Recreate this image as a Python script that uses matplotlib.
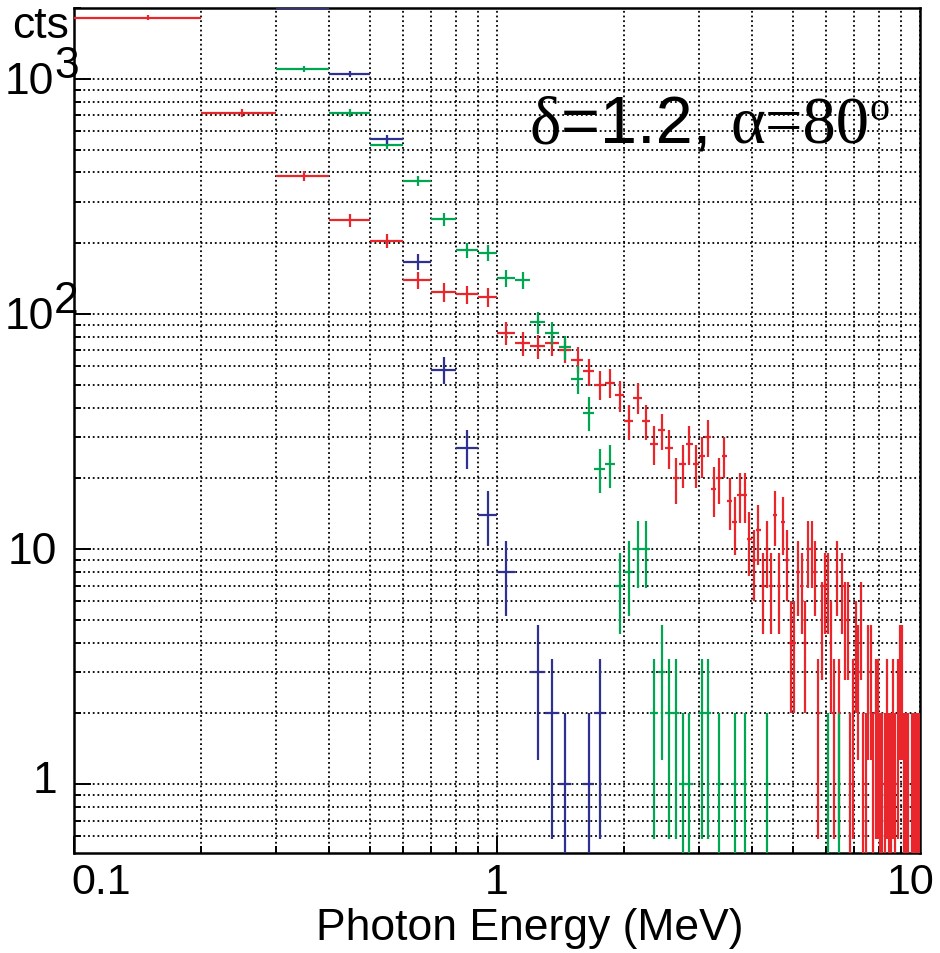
import numpy as np
import matplotlib
matplotlib.use("Agg")
import matplotlib.pyplot as plt
from matplotlib.ticker import LogLocator, NullFormatter
from matplotlib.transforms import offset_copy

plt.rcParams['font.family'] = ['Liberation Sans', 'DejaVu Sans']

# energy bins: 0.1 MeV wide, centres 0.15 ... 9.95 MeV
energy = np.round(np.arange(0.15, 10.0, 0.1), 2)
bin_half = 0.05

# counts per bin, one row per MeV
red_cts = [
    1820, 716, 386, 251, 205, 139, 124, 121, 118,
    83, 75, 73, 75, 70, 64, 57, 50, 51, 45,
    35, 44, 35, 28, 32, 27, 20, 23, 28, 23,
    25, 30, 18, 20, 25, 16, 13, 17, 17, 11,
    9, 12, 7, 10, 7, 14, 7, 13, 9, 4,
    4, 8, 7, 4, 10, 10, 8, 2, 5, 7,
    7, 4, 2, 8, 2, 7, 5, 5, 1, 2,
    4, 3, 5, 1, 1, 3, 3, 1, 2, 2,
    1, 1, 1, 2, 1, 1, 2, 1, 2, 3,
    3, 1, 1, 1, 0, 1, 1, 1, 1, 1,
]
green_cts = [
    0, 0, 1103, 716, 525, 368, 253, 187, 182,
    142, 139, 92, 83, 72, 53, 38, 22, 23, 7,
    8, 10, 10, 2, 3, 2, 2, 1, 1, 0,
    2, 2, 0, 1, 0, 0, 1, 0, 1, 0,
    0, 0, 0, 1, 0, 0, 0, 0, 0, 0,
    0, 0, 0, 0, 0, 0, 0, 0, 0, 0,
    1, 0, 0, 0, 1, 0, 0, 0, 0, 0,
    0, 0, 0, 0, 0, 0, 0, 0, 0, 0,
    0, 0, 0, 0, 0, 0, 0, 0, 0, 0,
    0, 0, 0, 0, 0, 0, 0, 0, 0, 0,
]
blue_cts = [
    0, 0, 2400, 1050, 553, 167, 58, 27, 14,
    8, 0, 3, 2, 1, 0, 1, 2, 0, 0,
] + [0] * 80

y_min, y_max = 0.51, 2000
x_min, x_max = 0.1, 10

W, H = 940, 954
fig = plt.figure(figsize=(W / 100, H / 100), dpi=100)
ax = fig.add_axes([74 / W, 1 - 854 / H, (920 - 74) / W, (854 - 9) / H])
ax.set_xscale('log')
ax.set_yscale('log')
ax.set_xlim(x_min, x_max)
ax.set_ylim(y_min, y_max)


def draw_hist(cts, color):
    cts = np.array(cts, dtype=float)
    m = cts > 0
    n = cts[m]
    y = np.minimum(n, y_max)          # off-scale bins sit on the frame, as in ROOT
    err = np.sqrt(n)
    lo = np.minimum(np.clip(n - err, 1e-3, None), y)
    hi = np.minimum(n + err, y_max)
    ax.errorbar(energy[m], y, xerr=bin_half, yerr=[y - lo, hi - y],
                fmt='none', ecolor=color, elinewidth=1.6, capsize=0, zorder=3)


draw_hist(red_cts, '#e8262b')
draw_hist(green_cts, '#00a651')
draw_hist(blue_cts, '#2e3192')

# dotted grid on every tick
ax.xaxis.set_major_locator(LogLocator(base=10, numticks=10))
ax.xaxis.set_minor_locator(LogLocator(base=10, subs=np.arange(2, 10), numticks=20))
ax.yaxis.set_major_locator(LogLocator(base=10, numticks=10))
ax.yaxis.set_minor_locator(LogLocator(base=10, subs=np.arange(2, 10), numticks=20))
ax.set_axisbelow(True)
ax.grid(True, which='both', color='black', linestyle=(0, (1, 1.6)), linewidth=1.3)

for s in ax.spines.values():
    s.set_linewidth(1.8)
ax.tick_params(which='both', direction='in', top=False, right=False, width=1.4)
ax.tick_params(which='major', length=12)
ax.tick_params(which='minor', length=5)

ax.xaxis.set_major_formatter(NullFormatter())
ax.xaxis.set_minor_formatter(NullFormatter())
ax.yaxis.set_major_formatter(NullFormatter())
ax.yaxis.set_minor_formatter(NullFormatter())

# x tick labels, ROOT keeps the end labels inside the frame
xtrans = ax.get_xaxis_transform()
for val, lab, ha, dx in [(0.1, '0.1', 'left', -3), (1, '1', 'center', 0),
                         (10, '10', 'right', 14)]:
    ax.text(val, 0, lab, fontsize=31, ha=ha, va='baseline',
            transform=offset_copy(xtrans, fig=fig, x=dx, y=-40, units='dots'))

# y tick labels drawn ROOT-style (big exponent right next to the base)
ytrans = ax.get_yaxis_transform()
ylab_size = 32
for val, base, expo, dy in [(1, '1', None, -8), (10, '10', None, -14),
                            (100, '10', '2', -14), (1000, '10', '3', -14)]:
    dx = -20 if expo else -17
    ax.text(0, val, base, fontsize=ylab_size, ha='right', va='baseline',
            transform=offset_copy(ytrans, fig=fig, x=dx, y=dy, units='dots'))
    if expo:
        ax.text(0, val, expo, fontsize=ylab_size, ha='left', va='baseline',
                transform=offset_copy(ytrans, fig=fig, x=-20, y=2, units='dots'))

fig.text(12 / W, 1 - 38 / H, 'cts', fontsize=32, ha='left', va='baseline')
fig.text(530 / W, 1 - 940 / H, 'Photon Energy (MeV)', fontsize=32,
         ha='center', va='baseline')

# annotation: mixed serif greek / sans digits, placed piece by piece
r = fig.canvas.get_renderer()
x_px = 530
base_y = H - 143
pieces = [('\u03b4', 'Liberation Serif', 48, 0),
          ('=1.2, ', 'Liberation Sans', 48, 0),
          ('\u03b1=80', 'Liberation Serif', 48, 0),
          ('o', 'Liberation Serif', 29, 23)]
for s, fam, size, rise in pieces:
    t = fig.text(x_px / W, (base_y + rise) / H, s, fontsize=size,
                 family=fam, ha='left', va='baseline')
    x_px = t.get_window_extent(r).x1

fig.savefig('out.png', dpi=100)
